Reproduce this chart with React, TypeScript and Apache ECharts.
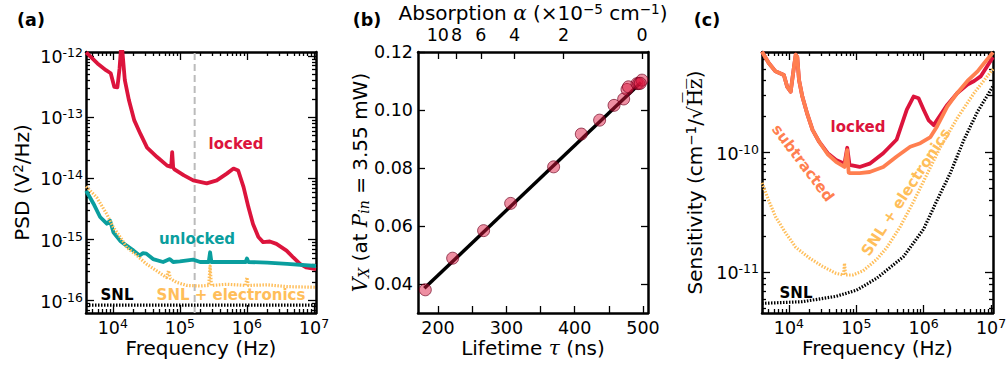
import { useEffect, useRef } from 'react';
import * as echarts from 'echarts';

const FONT = 'DejaVu Sans';
const BLACK = '#000000';
const CRIMSON = '#DC143C';
const TEAL = '#0A9E9E';
const ORANGE = '#FFBE5A';
const CORAL = '#FF7F50';

// ---------- Panel (a): PSD vs frequency ----------
const aLockedF = [4000, 5900, 7900, 9300, 10500, 11700, 12600, 13200, 13800, 15100, 17400, 20900, 25700, 32400, 45700, 64600, 74100, 76700, 79400, 83000, 115000, 158000, 251000, 355000, 500000, 630000, 740000, 890000, 1050000, 1230000, 1480000, 1740000, 2190000, 2750000, 3890000, 4900000, 6170000, 7600000, 1.07e7];
const aLockedPSD = [1.15e-12, 7.6e-13, 5.9e-13, 5.25e-13, 3.16e-13, 3.1e-13, 6.3e-13, 1.3e-12, 1.3e-12, 4.07e-13, 1.9e-13, 8.9e-14, 5.4e-14, 3.2e-14, 2.24e-14, 1.62e-14, 1.55e-14, 2.7e-14, 1.5e-14, 1.41e-14, 1.12e-14, 9.3e-15, 8.3e-15, 9.3e-15, 1.2e-14, 1.45e-14, 1.35e-14, 7.2e-15, 3.4e-15, 1.8e-15, 1.1e-15, 9.1e-16, 9.3e-16, 8.5e-16, 6.6e-16, 5.1e-16, 4.0e-16, 3.5e-16, 3.3e-16];
const aUnlockedF = [4000, 5130, 6460, 8130, 9120, 10200, 12900, 16200, 20400, 25100, 28200, 31600, 39800, 56200, 70800, 79400, 100000, 158000, 200000, 269000, 282000, 295000, 501000, 955000, 1000000, 1050000, 2000000, 3980000, 1.07e7];
const aUnlockedPSD = [6.3e-15, 3.9e-15, 2.34e-15, 1.82e-15, 2.04e-15, 1.32e-15, 9.5e-16, 7.9e-16, 6.6e-16, 5.5e-16, 6.0e-16, 5.9e-16, 4.8e-16, 4.3e-16, 4.8e-16, 4.3e-16, 4.4e-16, 4.7e-16, 4.3e-16, 4.3e-16, 6.2e-16, 4.3e-16, 4.3e-16, 4.3e-16, 4.9e-16, 4.3e-16, 4.2e-16, 4.0e-16, 3.7e-16];
const aElecF = [4000, 5750, 8130, 10200, 12900, 16200, 22900, 31600, 44700, 63100, 67600, 72400, 89100, 126000, 200000, 269000, 282000, 295000, 501000, 955000, 1000000, 1050000, 2000000, 3980000, 1.07e7];
const aElecPSD = [7.4e-15, 4.9e-15, 2.6e-15, 1.58e-15, 1.1e-15, 7.4e-16, 5.5e-16, 4.0e-16, 3.1e-16, 2.4e-16, 3.1e-16, 2.3e-16, 2.0e-16, 1.78e-16, 1.74e-16, 1.78e-16, 3.7e-16, 1.78e-16, 1.86e-16, 1.78e-16, 2.4e-16, 1.78e-16, 1.82e-16, 1.7e-16, 1.66e-16];
const aSnlF = [3981, 1.07e7];
const aSnlPSD = [8.5e-17, 8.5e-17];
const aMarkerF = 1.66e5;

// ---------- Panel (b): V_X vs lifetime ----------
const bTau = [181.4, 221.4, 266.7, 306.3, 369.2, 409.7, 436.5, 457.6, 471.7, 476.6, 478.7, 491.2, 493.6, 498.5, 496.0];
const bVx = [0.038, 0.0489, 0.0584, 0.0678, 0.0804, 0.0917, 0.0965, 0.1016, 0.1038, 0.1071, 0.108, 0.1091, 0.1091, 0.1103, 0.1092];
const bFitTau = [180, 497];
const bFitVx = [0.0385, 0.1095];
const bTauTicks = [200, 250, 300, 350, 400, 450, 500];
const bTauLabels = [200, 300, 400, 500];
const bVxTicks = [0.04, 0.06, 0.08, 0.1, 0.12];
const bAlphaTicks = [10, 8, 6, 4, 2, 0];
const bTau0 = 498.5; // ns, lifetime at zero absorption
const C_UNIT = 3e-4; // c expressed in (1e-5 cm^-1 * ns)^-1

// ---------- Panel (c): sensitivity ----------
const cLockedF = [3981, 5010, 6310, 8410, 9440, 10600, 11900, 12600, 13300, 14100, 15800, 18800, 22400, 28200, 37600, 50100, 66800, 73300, 79400, 112000, 158000, 251000, 398000, 562000, 708000, 841000, 1000000, 1190000, 1410000, 2240000, 3160000, 4470000, 5620000, 7080000, 8910000, 1.07e7];
const cLockedS = [7.0e-10, 5.62e-10, 4.79e-10, 4.47e-10, 3.55e-10, 3.24e-10, 5.25e-10, 6.6e-10, 6.3e-10, 4.07e-10, 2.95e-10, 2.09e-10, 1.55e-10, 1.23e-10, 9.9e-11, 8.7e-11, 8.1e-11, 1.1e-10, 7.9e-11, 7.6e-11, 8.1e-11, 9.9e-11, 1.29e-10, 2.29e-10, 2.95e-10, 2.85e-10, 2.29e-10, 1.86e-10, 1.7e-10, 2.51e-10, 3.16e-10, 3.72e-10, 3.98e-10, 4.37e-10, 5.37e-10, 6.3e-10];
const cSubF = [3981, 5010, 6310, 8410, 9440, 10600, 11900, 12600, 13300, 14100, 15800, 18800, 22400, 28200, 37600, 50100, 66800, 73300, 77000, 79400, 112000, 158000, 251000, 398000, 631000, 891000, 1260000, 1580000, 2240000, 3160000, 4470000, 6310000, 7940000, 1.07e7];
const cSubS = [7.0e-10, 5.62e-10, 4.79e-10, 4.47e-10, 3.55e-10, 3.24e-10, 5.25e-10, 6.6e-10, 6.3e-10, 4.07e-10, 2.95e-10, 2.09e-10, 1.55e-10, 1.23e-10, 9.7e-11, 8.4e-11, 7.6e-11, 1.05e-10, 6.8e-11, 6.76e-11, 6.76e-11, 6.9e-11, 7.6e-11, 9.3e-11, 1.12e-10, 1.2e-10, 1.35e-10, 1.66e-10, 2.43e-10, 3.16e-10, 3.98e-10, 4.79e-10, 5.62e-10, 6.9e-10];
const cElecF = [3981, 5010, 6310, 8910, 12600, 20000, 31600, 50100, 64600, 66800, 69200, 89100, 126000, 200000, 282000, 447000, 708000, 1120000, 1780000, 3160000, 5620000, 1.07e7];
const cElecS = [5.6e-11, 3.98e-11, 2.92e-11, 2.14e-11, 1.62e-11, 1.32e-11, 1.12e-11, 9.8e-12, 9.5e-12, 1.19e-11, 9.5e-12, 9.5e-12, 1.03e-11, 1.28e-11, 1.6e-11, 2.4e-11, 3.9e-11, 6.6e-11, 1.12e-10, 1.95e-10, 3.16e-10, 5.0e-10];
const cSnlF = [3981, 15800, 50100, 100000, 200000, 500000, 1000000, 1580000, 2500000, 3980000, 6300000, 1.07e7];
const cSnlS = [5.5e-12, 5.68e-12, 6.3e-12, 7.08e-12, 8.9e-12, 1.35e-11, 2.3e-11, 4.0e-11, 6.8e-11, 1.29e-10, 2.2e-10, 3.6e-10];

// axis ranges
const fMin = 3981;
const fMax = 1.07e7;
const aPsdMin = 6.3e-17;
const aPsdMax = 1.17e-12;
const bTauMin = 170.7;
const bTauMax = 507.3;
const bVxMin = 0.03;
const bVxMax = 0.12;
const cSMin = 4.57e-12;
const cSMax = 6.95e-10;

const TICK = 17.5;
const NAME = 20;

const zip = (xs: number[], ys: number[]) => xs.map((x, i) => [x, ys[i]]);

function logMajors(min: number, max: number) {
  const out: number[] = [];
  for (let e = Math.ceil(Math.log10(min)); e <= Math.floor(Math.log10(max)); e++) out.push(Math.pow(10, e));
  return out;
}
function logMinors(min: number, max: number) {
  const out: number[] = [];
  for (let e = Math.floor(Math.log10(min)); e <= Math.ceil(Math.log10(max)); e++) {
    for (let m = 2; m <= 9; m++) {
      const v = m * Math.pow(10, e);
      if (v > min && v < max) out.push(v);
    }
  }
  return out;
}

const powRich = {
  b: { fontFamily: FONT, fontSize: TICK, color: BLACK, lineHeight: 20, verticalAlign: 'bottom' },
  s: { fontFamily: FONT, fontSize: 12.5, color: BLACK, lineHeight: 12, verticalAlign: 'top' },
};
const powLabel = (v: number) => `{b|10}{s|${Math.round(Math.log10(v))}}`;

const nameRich = {
  sp: { fontFamily: FONT, fontSize: 13.5, color: BLACK, lineHeight: 12, verticalAlign: 'top' },
  sb: { fontFamily: 'DejaVu Serif', fontStyle: 'italic', fontSize: 14, color: BLACK, lineHeight: 12, verticalAlign: 'bottom' },
  i: { fontFamily: 'DejaVu Serif', fontStyle: 'italic', fontSize: NAME, color: BLACK },
  rm: { fontFamily: 'DejaVu Serif', fontSize: NAME, color: BLACK },
};

function ax(gridIndex: number, type: string, min: number, max: number, position: string, o: any) {
  const a: any = {
    gridIndex,
    type,
    min,
    max,
    position,
    silent: true,
    axisLine: o.line
      ? { show: true, onZero: false, lineStyle: { color: BLACK, width: 2.5 } }
      : { show: false, onZero: false },
    axisTick: {
      show: true,
      inside: true,
      length: o.len,
      customValues: o.ticks,
      lineStyle: { color: BLACK, width: 1.3 },
    },
    axisLabel: o.labels
      ? {
          show: true,
          customValues: o.labels,
          formatter: o.fmt,
          margin: o.margin,
          color: BLACK,
          fontFamily: FONT,
          fontSize: TICK,
          lineHeight: o.lh || 20,
          rich: o.rich,
        }
      : { show: false },
    splitLine: { show: false },
    minorTick: { show: false },
  };
  if (o.name) {
    a.name = o.name;
    a.nameLocation = 'middle';
    a.nameGap = o.nameGap;
    a.nameMoveOverlap = false;
    a.nameTextStyle = { fontFamily: FONT, fontSize: NAME, color: BLACK, lineHeight: 22, rich: nameRich };
  }
  return a;
}

function logPanelAxes(grid: number, xMin: number, xMax: number, yMin: number, yMax: number, yName: string, yNameGap: number) {
  const xMaj = logMajors(xMin, xMax);
  const xMin2 = logMinors(xMin, xMax);
  const yMaj = logMajors(yMin, yMax);
  const yMin2 = logMinors(yMin, yMax);
  const xs = [
    ax(grid, 'log', xMin, xMax, 'bottom', {
      line: true, len: 8, ticks: xMaj, labels: xMaj, fmt: powLabel, rich: powRich, margin: 4,
      name: 'Frequency (Hz)', nameGap: 24,
    }),
    ax(grid, 'log', xMin, xMax, 'bottom', { line: false, len: 4, ticks: xMin2 }),
    ax(grid, 'log', xMin, xMax, 'top', { line: true, len: 8, ticks: xMaj }),
    ax(grid, 'log', xMin, xMax, 'top', { line: false, len: 4, ticks: xMin2 }),
  ];
  const ys = [
    ax(grid, 'log', yMin, yMax, 'left', {
      line: true, len: 8, ticks: yMaj, labels: yMaj, fmt: powLabel, rich: powRich, margin: 3,
      name: yName, nameGap: yNameGap,
    }),
    ax(grid, 'log', yMin, yMax, 'left', { line: false, len: 4, ticks: yMin2 }),
    ax(grid, 'log', yMin, yMax, 'right', { line: true, len: 8, ticks: yMaj }),
    ax(grid, 'log', yMin, yMax, 'right', { line: false, len: 4, ticks: yMin2 }),
  ];
  return { xs, ys };
}

const tauOfAlpha = (a: number) => 1 / (1 / bTau0 + a * C_UNIT);
const alphaOfTau = (t: number) => Math.round((1 / t - 1 / bTau0) / C_UNIT);

function buildOption() {
  const pa = logPanelAxes(0, fMin, fMax, aPsdMin, aPsdMax, 'PSD (V{sp|2}/Hz)', 53);
  const pc = logPanelAxes(2, fMin, fMax, cSMin, cSMax, 'Sensitivity (cm{sp|−1}/√{rm|H\u0305z\u0305})', 56);
  const alphaTau = bAlphaTicks.map(tauOfAlpha);
  const bx = [
    ax(1, 'value', bTauMin, bTauMax, 'bottom', {
      line: true, len: 7, ticks: bTauTicks, labels: bTauLabels, fmt: (v: number) => String(Math.round(v)), margin: 6, lh: 17,
      name: 'Lifetime {i|τ} (ns)', nameGap: 24,
    }),
    ax(1, 'value', bTauMin, bTauMax, 'top', {
      line: true, len: 7, ticks: alphaTau, labels: alphaTau, fmt: (v: number) => String(alphaOfTau(v)), margin: 7,
      name: 'Absorption {i|α} (×10{sp|−5} cm{sp|−1})', nameGap: 28,
    }),
  ];
  const by = [
    ax(1, 'value', bVxMin, bVxMax, 'left', {
      line: true, len: 7, ticks: bVxTicks, labels: bVxTicks, fmt: (v: number) => v.toFixed(2), margin: 5,
      name: '{i|V}{sb|X} (at {i|P}{sb|in} = 3.55 mW)', nameGap: 47,
    }),
    ax(1, 'value', bVxMin, bVxMax, 'right', { line: true, len: 7, ticks: bVxTicks }),
  ];

  const xAxis = [...pa.xs, ...bx, ...pc.xs];
  const yAxis = [...pa.ys, ...by, ...pc.ys];
  const AX = 0, AY = 0, BX = 4, BY = 4, CX = 6, CY = 6;

  const line = (x: number, y: number, data: any[], color: string, width: number, type: any = 'solid', z = 2) => ({
    type: 'line',
    xAxisIndex: x,
    yAxisIndex: y,
    data,
    symbol: 'none',
    showSymbol: false,
    silent: true,
    clip: true,
    z,
    lineStyle: { color, width, type, cap: 'butt', join: 'round' },
  });

  const series: any[] = [
    // (a)
    line(AX, AY, [[aMarkerF, aPsdMin], [aMarkerF, aPsdMax]], '#BBBBBB', 2, [7, 4], 1),
    line(AX, AY, zip(aLockedF, aLockedPSD), CRIMSON, 3.8),
    line(AX, AY, zip(aUnlockedF, aUnlockedPSD), TEAL, 3.8),
    line(AX, AY, zip(aElecF, aElecPSD), ORANGE, 3.2, [1.5, 1.5], 3),
    line(AX, AY, zip(aSnlF, aSnlPSD), BLACK, 3.2, [1.5, 1.5], 3),
    // (b)
    line(BX, BY, zip(bFitTau, bFitVx), BLACK, 3.5),
    {
      type: 'scatter',
      xAxisIndex: BX,
      yAxisIndex: BY,
      data: zip(bTau, bVx),
      symbol: 'circle',
      symbolSize: 12,
      silent: true,
      z: 3,
      itemStyle: { color: 'rgba(220,20,60,0.6)', borderColor: 'rgba(110,0,30,0.85)', borderWidth: 1 },
    },
    // (c)
    line(CX, CY, zip(cSnlF, cSnlS), BLACK, 3.2, [1.5, 1.5], 3),
    line(CX, CY, zip(cElecF, cElecS), ORANGE, 3.2, [1.5, 1.5], 3),
    line(CX, CY, zip(cLockedF, cLockedS), CRIMSON, 3.8),
    line(CX, CY, zip(cSubF, cSubS), CORAL, 3.8),
  ];

  const txt = (x: number, y: number, text: string, fill: string, size: number, rotation = 0) => ({
    type: 'text',
    x,
    y,
    rotation,
    silent: true,
    z: 10,
    style: {
      text,
      fill,
      fontFamily: FONT,
      fontWeight: 'bold',
      fontSize: size,
      align: 'center',
      verticalAlign: 'middle',
    },
  });

  const graphic = [
    txt(31, 20, '(a)', BLACK, 17.5),
    txt(367, 20, '(b)', BLACK, 17.5),
    txt(707, 20, '(c)', BLACK, 17.5),
    txt(236, 144, 'locked', CRIMSON, 15),
    txt(197, 239, 'unlocked', TEAL, 15),
    txt(117, 295, 'SNL', BLACK, 15),
    txt(231, 295, 'SNL + electronics', ORANGE, 15),
    txt(858, 127, 'locked', CRIMSON, 15),
    txt(803, 163, 'subtracted', CORAL, 15, -0.925),
    txt(906, 192, 'SNL + electronics', ORANGE, 15, 0.99),
    txt(796, 293, 'SNL', BLACK, 15),
  ];

  const gridBase = { top: 52, height: 261, containLabel: false, outerBoundsMode: 'none' };
  return {
    animation: false,
    backgroundColor: '#ffffff',
    textStyle: { fontFamily: FONT },
    grid: [
      { ...gridBase, left: 86, width: 230 },
      { ...gridBase, left: 418, width: 230 },
      { ...gridBase, left: 762, width: 231 },
    ],
    xAxis,
    yAxis,
    series,
    graphic,
  };
}

export default function App() {
  const ref = useRef<HTMLDivElement>(null);
  useEffect(() => {
    const chart = echarts.init(ref.current as HTMLDivElement, null, { renderer: 'svg' });
    chart.setOption(buildOption() as any);
    return () => chart.dispose();
  }, []);
  return (
    <div
      ref={ref}
      style={{ position: 'absolute', left: 0, top: 0, width: 1006, height: 368, background: '#fff' }}
    />
  );
}
